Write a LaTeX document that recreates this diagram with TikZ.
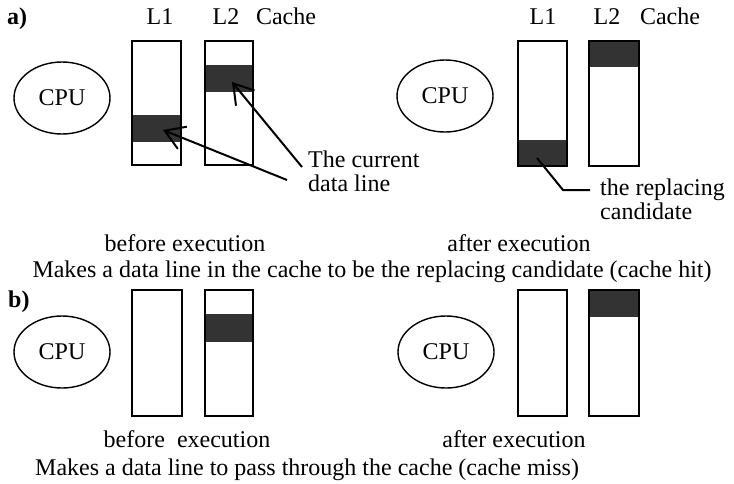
\documentclass[tikz,border=0pt]{standalone}
\usepackage{fontspec}
\setmainfont{Liberation Serif}
\usetikzlibrary{arrows.meta,shapes.geometric}
\definecolor{bandgray}{HTML}{333333}
\begin{document}
\begin{tikzpicture}[x=1pt,y=-1pt,
  cachebox/.style={draw=black,line width=2pt},
  bandfill/.style={fill=bandgray},
  cpu/.style={ellipse,draw,line width=1.4pt,minimum width=96pt,minimum height=72pt,inner sep=0pt,font=\fontsize{24}{26}\selectfont},
  lbl/.style={inner sep=0pt,font=\fontsize{24}{24}\selectfont},
  ptr/.style={line width=2pt,-{Straight Barb[length=19pt,width=24pt]}},
  lead/.style={line width=2pt}]
\useasboundingbox (0,0) rectangle (734,483);

% ---------- a) ----------
\node[lbl,anchor=base west,font=\fontsize{24}{24}\selectfont\bfseries] (la) at (7,24) {a)};
\node[lbl,anchor=base] (aL1t) at (160,24) {L1};
\node[lbl,anchor=base] (aL2t) at (226,24) {L2};
\node[lbl,anchor=base] (aCt) at (286,24) {Cache};
\node[lbl,anchor=base] (bL1t) at (543,24) {L1};
\node[lbl,anchor=base] (bL2t) at (607,24) {L2};
\node[lbl,anchor=base] (bCt) at (670,24) {Cache};

\node[cpu] (cpu1) at (62,98) {CPU};
\node[cpu] (cpu2) at (445,96) {CPU};

% bands
\fill[bandfill] (132,115) rectangle (181,142);
\fill[bandfill] (205,65) rectangle (253,92);
\fill[bandfill] (518,140) rectangle (567,166);
\fill[bandfill] (589,41) rectangle (639,67);
% boxes
\draw[cachebox] (132,41) rectangle (181,165);
\draw[cachebox] (205,41) rectangle (253,165);
\draw[cachebox] (518,41) rectangle (567,166);
\draw[cachebox] (589,41) rectangle (639,166);

\node[lbl,anchor=west,align=left] (cur) at (308,171) {The current\\data line};
\coordinate (tail1) at (287,180);
\coordinate (tip1) at (163,130);
\coordinate (tail2) at (302,167);
\coordinate (tip2) at (232,82);
\draw[ptr] (tail1) -- (tip1);
\draw[ptr] (tail2) -- (tip2);

\node[lbl,anchor=west,align=left] (rep) at (600,199) {the replacing\\candidate};
\coordinate (r0) at (537,158);
\coordinate (r1) at (563,190);
\coordinate (r2) at (590,190);
\draw[lead] (r0) -- (r1) -- (r2);

\node[lbl,anchor=base] (bef1) at (185,251) {before execution};
\node[lbl,anchor=base] (aft1) at (519,251) {after execution};
\node[lbl,anchor=base] (capa) at (372,277) {Makes a data line in the cache to be the replacing candidate (cache hit)};

% ---------- b) ----------
\node[lbl,anchor=base west,font=\fontsize{24}{24}\selectfont\bfseries] (lb) at (8,307) {b)};
\node[cpu] (cpu3) at (62,352) {CPU};
\node[cpu] (cpu4) at (446,352) {CPU};

\fill[bandfill] (205,314) rectangle (253,342);
\fill[bandfill] (589,290) rectangle (639,317);
\draw[cachebox] (132,290) rectangle (182,416);
\draw[cachebox] (205,290) rectangle (253,416);
\draw[cachebox] (518,290) rectangle (567,416);
\draw[cachebox] (589,290) rectangle (639,416);

\node[lbl,anchor=base] (bef2) at (187,447) {before\ \ execution};
\node[lbl,anchor=base] (aft2) at (514,447) {after execution};
\node[lbl,anchor=base west] (capb) at (35,475) {Makes a data line to pass through the cache (cache miss)};
\end{tikzpicture}
\end{document}
